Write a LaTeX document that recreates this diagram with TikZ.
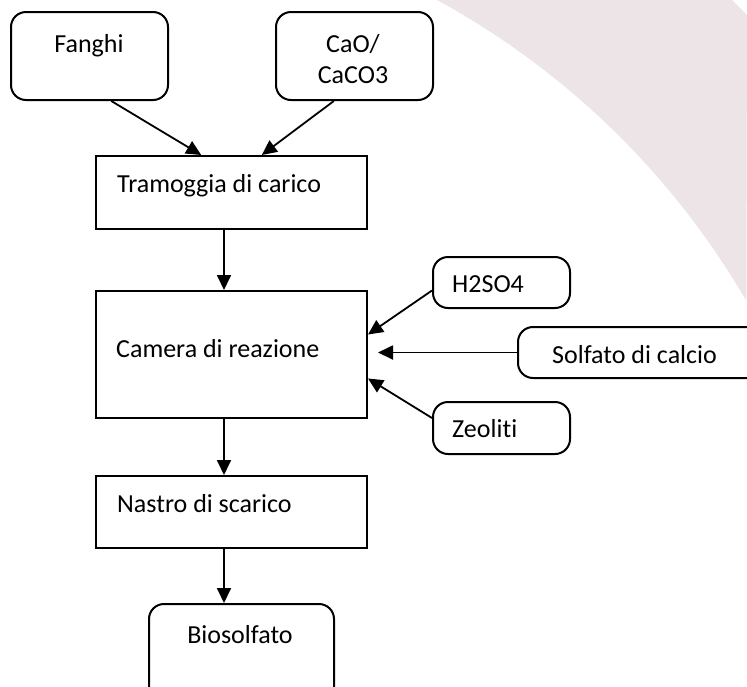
\documentclass[tikz,border=0pt]{standalone}
\usepackage{fontspec}
\setmainfont{Carlito}[Ligatures=NoCommon]
\usetikzlibrary{arrows.meta,calc}
\definecolor{pinkbg}{RGB}{236,228,230}
\begin{document}
\begin{tikzpicture}[x=1pt,y=-1pt,
  font=\fontsize{26}{32}\selectfont,
  sqbox/.style={draw=black,line width=2pt,fill=white,inner sep=0pt,anchor=north west},
  rbox/.style={sqbox,rounded corners=15pt},
  txt/.style={inner sep=0pt,text=black},
  arr/.style={line width=1.8pt,-{Triangle[length=15pt,width=14pt]}}]
\useasboundingbox (0,0) rectangle (747,686);
\begin{scope}
\clip (0,0) rectangle (747,686);
% background decoration
\fill[pinkbg] (437,0) arc[start angle=61.4,end angle=30.2,radius=802pt] -- (747,15) -- (732,0) -- cycle;
% boxes
\node[rbox,minimum width=157pt,minimum height=88pt] (fanghi) at (10,11) {};
\node[rbox,minimum width=157pt,minimum height=88pt] (cao) at (275,11) {};
\node[sqbox,minimum width=271pt,minimum height=73pt] (tram) at (95,155) {};
\node[sqbox,minimum width=271pt,minimum height=127pt] (camera) at (95,290) {};
\node[sqbox,minimum width=271pt,minimum height=72pt] (nastro) at (95,475) {};
\node[rbox,minimum width=185pt,minimum height=110pt] (bio) at (148,603) {};
\node[rbox,minimum width=137pt,minimum height=51pt] (h2so4) at (432,256) {};
\node[rbox,minimum width=260pt,minimum height=51pt] (solf) at (517,326) {};
\node[rbox,minimum width=137pt,minimum height=52pt] (zeo) at (432,401) {};
% texts
\node[txt,anchor=base] (tfanghi) at (89,52) {Fanghi};
\node[txt,anchor=base] (tcao1) at (353,52) {CaO/};
\node[txt,anchor=base] (tcao2) at (353,83) {CaCO3};
\node[txt,anchor=base west] (ttram) at (117,192) {Tramoggia di carico};
\node[txt,anchor=base west] (tcamera) at (116,357) {Camera di reazione};
\node[txt,anchor=base west] (tnastro) at (117,512) {Nastro di scarico};
\node[txt,anchor=base] (tbio) at (240,643) {Biosolfato};
\node[txt,anchor=base west] (th2so4) at (452,292) {H2SO4};
\node[txt,anchor=base west] (tsolf) at (552,363) {Solfato di calcio};
\node[txt,anchor=base west] (tzeo) at (452,437) {Zeoliti};
% connectors
\draw[arr] ($(fanghi.south west)!0.637!(fanghi.south east)$) -- ($(tram.north west)!0.389!(tram.north east)$);
\draw[arr] ($(cao.south west)!0.37!(cao.south east)$) -- ($(tram.north west)!0.611!(tram.north east)$);
\draw[arr] ($(tram.south)+(-7.5,0)$) coordinate (d1) -- (d1 |- camera.north);
\draw[arr] ($(h2so4.west)+(0,8)$) -- ($(camera.east)+(0,-20)$);
\draw[arr,shorten >=10pt] (solf.west) -- (solf.west -| camera.east);
\draw[arr] ($(zeo.west)+(0,-10)$) -- ($(camera.east)+(0,24)$);
\draw[arr] ($(camera.south)+(-7.5,0)$) coordinate (d2) -- (d2 |- nastro.north);
\draw[arr] ($(nastro.south)+(-7.5,0)$) coordinate (d3) -- (d3 |- bio.north);
\end{scope}
\end{tikzpicture}
\end{document}
